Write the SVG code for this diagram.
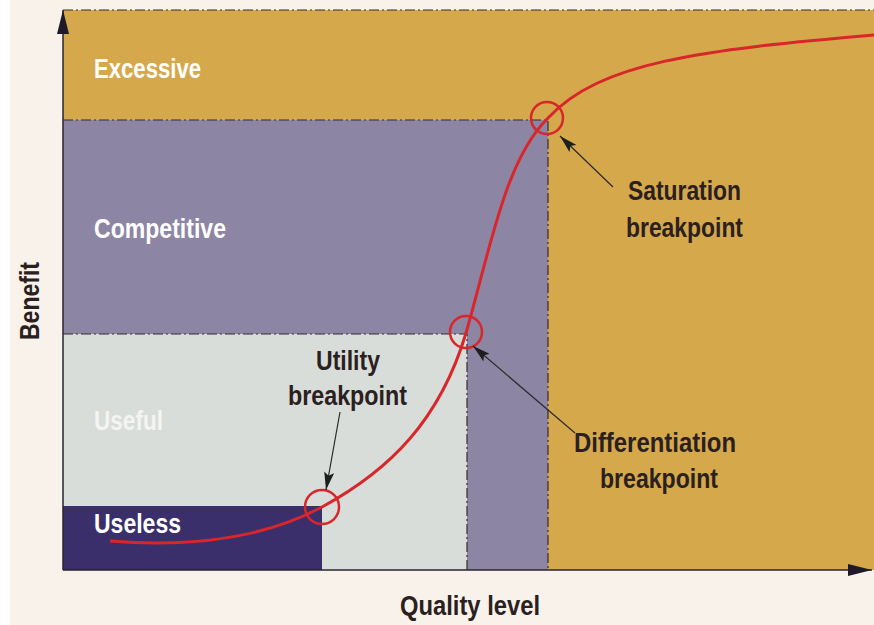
<svg xmlns="http://www.w3.org/2000/svg" width="874" height="625" viewBox="0 0 874 625">
<defs>
<style>
.lbl{font-family:"Liberation Sans",Arial,sans-serif;font-weight:bold;font-size:27px}
.zone{fill:#ffffff}
.dark{fill:#2b2020}
.dash{stroke:#3a2a2a;stroke-width:1.2;stroke-dasharray:10,3,2,3;fill:none}
.ring{fill:none;stroke:#d8262a;stroke-width:2.5}
.ptr{stroke:#2a2a2a;stroke-width:1.2;fill:none;marker-end:url(#ah)}
</style>
<marker id="ah" viewBox="0 0 10 10" refX="10" refY="5" markerWidth="18" markerHeight="10" preserveAspectRatio="none" markerUnits="userSpaceOnUse" orient="auto"><path d="M0,0 L10,5 L0,10 L2,5 z" fill="#1e1e1e"/></marker>
<marker id="axh" viewBox="0 0 10 10" refX="10" refY="5" markerWidth="24" markerHeight="12" preserveAspectRatio="none" markerUnits="userSpaceOnUse" orient="auto"><path d="M0,0 L10,5 L0,10 z" fill="#1e1a2a"/></marker>
</defs>
<rect width="874" height="625" fill="#ffffff"/>
<rect x="10" y="0" width="864" height="625" fill="#f8f2eb"/>
<g id="zones">
<rect id="excessive" x="63" y="10" width="811" height="560" fill="#d5a94b"/>
<rect id="competitive" x="63" y="120" width="485" height="450" fill="#8d85a4"/>
<rect id="useful" x="63" y="334" width="404" height="236" fill="#d8ddd9"/>
<rect id="useless" x="63" y="506" width="259" height="64" fill="#3b2f6b"/>
</g>
<g id="gridlines">
<path class="dash" d="M63,10 H874"/>
<path class="dash" d="M63,120 H548 V570"/>
<path class="dash" d="M63,334 H467 V570"/>
</g>
<g id="axes">
<path d="M63,570 V10" stroke="#2a2430" stroke-width="1.5" fill="none" marker-end="url(#axh)"/>
<path d="M63,570 H872" stroke="#2a2430" stroke-width="1.5" fill="none" marker-end="url(#axh)"/>
</g>
<g id="curve">
<path d="M110,541 C200,548 270,535 322,507 C390,470 440,420 466,333 C490,250 505,160 548,118 C600,62 700,50 874,35" fill="none" stroke="#d8262a" stroke-width="3"/>
</g>
<g id="breakpoints">
<circle id="utility-ring" class="ring" cx="322" cy="507" r="17"/>
<circle id="differentiation-ring" class="ring" cx="466" cy="332" r="16"/>
<circle id="saturation-ring" class="ring" cx="547" cy="118" r="16"/>
</g>
<g id="connectors">
<path class="ptr" d="M340,412 L326,490"/>
<path class="ptr" d="M575,433 L473,346"/>
<path class="ptr" d="M613,187 L560,136"/>
</g>
<g id="zone-labels">
<text class="lbl zone" x="94" y="78" textLength="107" lengthAdjust="spacingAndGlyphs">Excessive</text>
<text class="lbl zone" x="94" y="238" textLength="132" lengthAdjust="spacingAndGlyphs">Competitive</text>
<text class="lbl" x="94" y="430" fill="#f4f4f2" textLength="69" lengthAdjust="spacingAndGlyphs">Useful</text>
<text class="lbl zone" x="94" y="533" textLength="87" lengthAdjust="spacingAndGlyphs">Useless</text>
</g>
<g id="utility-label">
<text class="lbl dark" x="316" y="370" textLength="64" lengthAdjust="spacingAndGlyphs">Utility</text>
<text class="lbl dark" x="288" y="405" textLength="119" lengthAdjust="spacingAndGlyphs">breakpoint</text>
</g>
<g id="saturation-label">
<text class="lbl dark" x="628" y="200" textLength="113" lengthAdjust="spacingAndGlyphs">Saturation</text>
<text class="lbl dark" x="626" y="237" textLength="117" lengthAdjust="spacingAndGlyphs">breakpoint</text>
</g>
<g id="differentiation-label">
<text class="lbl dark" x="574" y="452" textLength="162" lengthAdjust="spacingAndGlyphs">Differentiation</text>
<text class="lbl dark" x="600" y="488" textLength="118" lengthAdjust="spacingAndGlyphs">breakpoint</text>
</g>
<g id="axis-labels">
<text class="lbl dark" x="400" y="615" textLength="140" lengthAdjust="spacingAndGlyphs">Quality level</text>
<text class="lbl dark" transform="translate(39,340) rotate(-90)" x="0" y="0" textLength="78" lengthAdjust="spacingAndGlyphs">Benefit</text>
</g>
</svg>
